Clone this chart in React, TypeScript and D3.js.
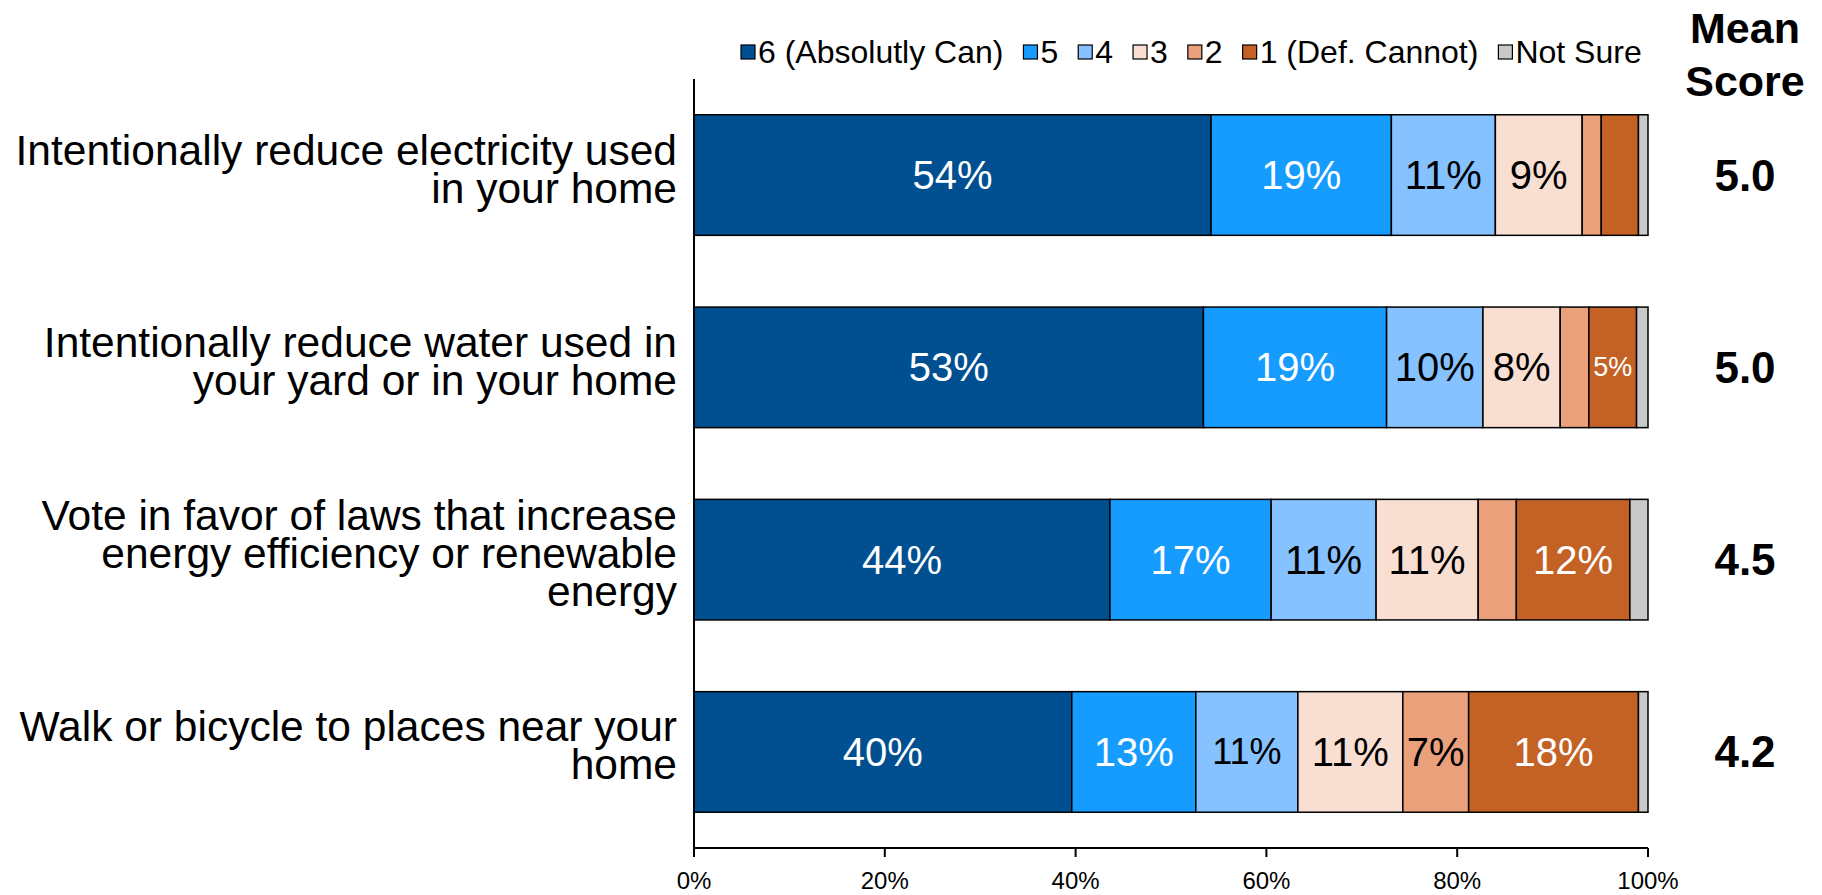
import React from "react";
import * as d3 from "d3";

const categories: string[][] = [
  ["Intentionally reduce electricity used", "in your home"],
  ["Intentionally reduce water used in", "your yard or in your home"],
  ["Vote in favor of laws that increase", "energy efficiency or renewable", "energy"],
  ["Walk or bicycle to places near your", "home"],
];
const seriesNames = ["6 (Absolutly Can)", "5", "4", "3", "2", "1 (Def. Cannot)", "Not Sure"];
const seriesColors = ["#004F91", "#169BFF", "#85C2FF", "#F8DFD2", "#EAA07A", "#C46226", "#C9C9C9"];
const labelColors = ["#FFFFFF", "#FFFFFF", "#000000", "#000000", "#000000", "#FFFFFF", "#000000"];
// values per category, in series order
const values: number[][] = [
  [54.2, 18.9, 10.9, 9.1, 2.0, 3.9, 1.0],
  [53.4, 19.2, 10.1, 8.1, 3.0, 5.0, 1.2],
  [43.6, 16.9, 11.0, 10.7, 4.0, 11.9, 1.9],
  [39.6, 13.0, 10.7, 11.0, 6.9, 17.8, 1.0],
];
const meanScores = ["5.0", "5.0", "4.5", "4.2"];
const tickValues = [0, 20, 40, 60, 80, 100];

const W = 1822;
const H = 895;
const FONT = "'Liberation Sans', Arial, Helvetica, sans-serif";
const LABEL_MIN = 4.5;
const labelSize = (ci: number, si: number) => {
  if (ci === 1 && si === 5) return 27;
  if (ci === 3 && si === 2) return 36;
  return 40;
};

function measure(text: string, size: number, weight = "normal") {
  if (typeof document === "undefined") return text.length * size * 0.55;
  const c = document.createElement("canvas").getContext("2d")!;
  c.font = `${weight} ${size}px ${FONT}`;
  return c.measureText(text).width;
}

export default function App() {
  const x = d3.scaleLinear().domain([0, 100]).range([694, 1648]);
  const y = d3
    .scaleBand<number>()
    .domain(d3.range(categories.length))
    .range([79, 848])
    .paddingInner(0.373)
    .paddingOuter(0.186);
  const bw = y.bandwidth();

  const legendSize = 32;
  let lx = 741;
  const legendItems = seriesNames.map((name, i) => {
    const item = { name, i, x: lx };
    lx += 14 + 3 + measure(name, legendSize) + 20;
    return item;
  });

  const catSize = 42.5;
  const lineH = 38;

  return (
    <svg
      width={W}
      height={H}
      style={{ position: "absolute", left: 0, top: 0, background: "#fff" }}
      fontFamily={FONT}
    >
      <rect x={0} y={0} width={W} height={H} fill="#fff" />
      {/* legend */}
      {legendItems.map((it) => (
        <g key={it.name}>
          <rect x={it.x} y={45} width={14} height={14} fill={seriesColors[it.i]} stroke="#000" strokeWidth={1.2} />
          <text x={it.x + 17} y={52} fontSize={legendSize} dominantBaseline="central" fill="#000">
            {it.name}
          </text>
        </g>
      ))}
      {/* mean score header */}
      <text x={1745} y={28} fontSize={43} fontWeight="bold" textAnchor="middle" dominantBaseline="central">Mean</text>
      <text x={1745} y={81} fontSize={43} fontWeight="bold" textAnchor="middle" dominantBaseline="central">Score</text>

      {/* bars */}
      {values.map((row, ci) => {
        const stack = d3.cumsum([0, ...row]);
        const y0 = y(ci)!;
        const cy = y0 + bw / 2;
        return (
          <g key={ci}>
            {row.map((v, si) => (
              <rect
                key={si}
                x={x(stack[si])}
                y={y0}
                width={x(stack[si + 1]) - x(stack[si])}
                height={bw}
                fill={seriesColors[si]}
                stroke="#000"
                strokeWidth={1.5}
              />
            ))}
            {row.map((v, si) =>
              v >= LABEL_MIN ? (
                <text
                  key={"l" + si}
                  x={(x(stack[si]) + x(stack[si + 1])) / 2}
                  y={cy}
                  fontSize={labelSize(ci, si)}
                  textAnchor="middle"
                  dominantBaseline="central"
                  fill={labelColors[si]}
                >
                  {Math.round(v) + "%"}
                </text>
              ) : null
            )}
            {categories[ci].map((line, li) => (
              <text
                key={"c" + li}
                x={677}
                y={cy - 6 + (li - (categories[ci].length - 1) / 2) * lineH}
                fontSize={catSize}
                textAnchor="end"
                dominantBaseline="central"
                fill="#000"
              >
                {line}
              </text>
            ))}
            <text x={1745} y={cy} fontSize={44} fontWeight="bold" textAnchor="middle" dominantBaseline="central">
              {meanScores[ci]}
            </text>
          </g>
        );
      })}

      {/* axes */}
      <line x1={x(0)} x2={x(0)} y1={79} y2={849} stroke="#000" strokeWidth={2} />
      <line x1={x(0)} x2={x(100)} y1={848} y2={848} stroke="#000" strokeWidth={2} />
      {tickValues.map((t) => (
        <g key={t}>
          <line x1={x(t)} x2={x(t)} y1={848} y2={857} stroke="#000" strokeWidth={2} />
          <text x={x(t)} y={880} fontSize={24} textAnchor="middle" dominantBaseline="central">
            {t + "%"}
          </text>
        </g>
      ))}
    </svg>
  );
}
